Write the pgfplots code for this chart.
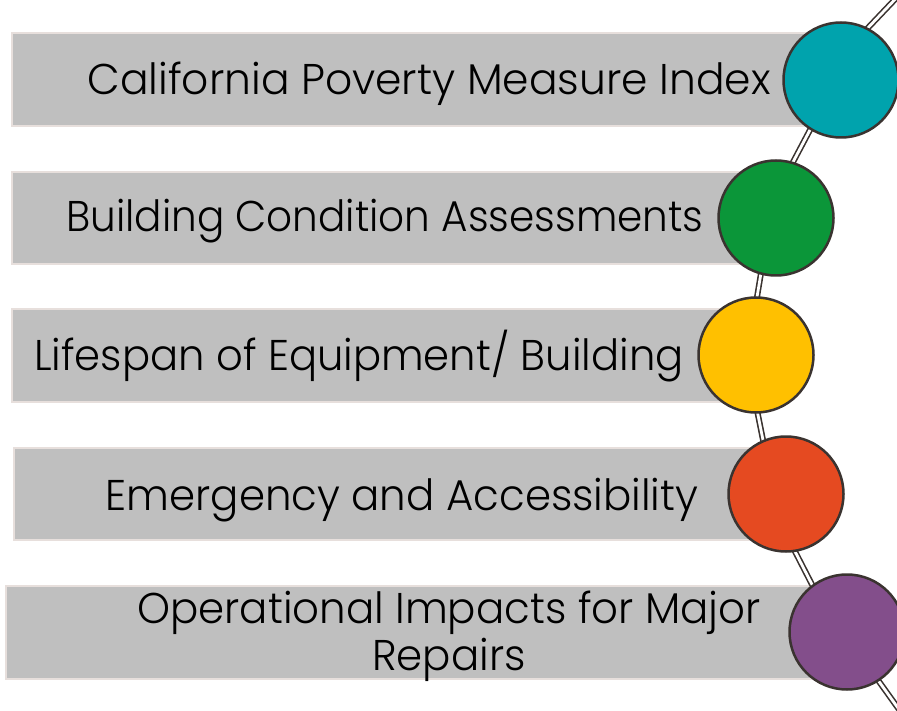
\documentclass[border=0pt]{standalone}
\usepackage{pgfplots}
\pgfplotsset{compat=1.18}
\usepackage{fontspec}
\setmainfont{Poppins}[UprightFont=* Light]
\definecolor{boxfill}{HTML}{BFBFBF}
\definecolor{boxedge}{HTML}{E7DFDC}
\definecolor{ink}{HTML}{3A3330}
\definecolor{cteal}{HTML}{00A3AD}
\definecolor{cgreen}{HTML}{0B9639}
\definecolor{cyellow}{HTML}{FFC000}
\definecolor{cred}{HTML}{E54A21}
\definecolor{cpurple}{HTML}{834E8B}
\begin{document}
\begin{tikzpicture}[lab/.style={anchor=base, inner sep=0pt, font=\fontsize{43}{47}\selectfont}]
\begin{axis}[x=1pt, y=1pt, y dir=reverse, xmin=0, xmax=897, ymin=0, ymax=711,
  hide axis, scale only axis, clip=true,
  boxstyle/.style={fill=boxfill, draw=boxedge, line width=2.5pt},
  link/.style={draw=ink, line width=1.6pt, double=white, double distance=2.8pt},
  dot/.style={only marks, mark=*, mark size=57.5pt, mark options={draw=ink, line width=2.5pt, fill=#1}}]
% boxes
\addplot[boxstyle] coordinates {(12,33) (842,33) (842,126) (12,126)} -- cycle;
\addplot[boxstyle] coordinates {(12,172) (776,172) (776,264) (12,264)} -- cycle;
\addplot[boxstyle] coordinates {(12,309) (756,309) (756,402) (12,402)} -- cycle;
\addplot[boxstyle] coordinates {(14,448) (786,448) (786,540) (14,540)} -- cycle;
\addplot[boxstyle] coordinates {(6,586) (847,586) (847,679) (6,679)} -- cycle;
% connector
\addplot[link] coordinates {(902,-8) (845,52)};
\addplot[link] coordinates {(820,111) (783,181)};
\addplot[link] coordinates {(764,255) (754,315)};
\addplot[link] coordinates {(754,395) (767,460)};
\addplot[link] coordinates {(785,532) (822,604)};
\addplot[link] coordinates {(860,655) (908,722)};
% circles
\addplot[dot=cteal] coordinates {(841,80)};
\addplot[dot=cgreen] coordinates {(776,218)};
\addplot[dot=cyellow] coordinates {(756,355)};
\addplot[dot=cred] coordinates {(786,494)};
\addplot[dot=cpurple] coordinates {(847,632)};
% labels
\node[lab] at (axis cs:429,95) {\scalebox{0.986}[1]{California Poverty Measure Index}};
\node[lab] at (axis cs:385,232) {\scalebox{0.943}[1]{Building Condition Assessments}};
\node[lab] at (axis cs:359,370) {\scalebox{0.970}[1]{Lifespan of Equipment/ Building}};
\node[lab] at (axis cs:402,510) {\scalebox{0.975}[1]{Emergency and Accessibility}};
\node[lab] at (axis cs:449,623) {\scalebox{0.975}[1]{Operational Impacts for Major}};
\node[lab] at (axis cs:449,670) {\scalebox{0.975}[1]{Repairs}};
\end{axis}
\pgfresetboundingbox
\useasboundingbox (current axis.south west) rectangle (current axis.north east);
\end{tikzpicture}
\end{document}
